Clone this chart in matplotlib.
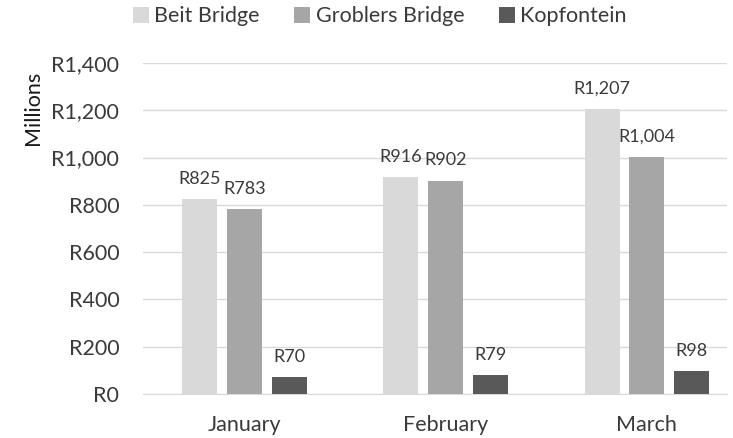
import numpy as np
import matplotlib
matplotlib.use("Agg")
import matplotlib.pyplot as plt

plt.rcParams['font.family'] = ['Lato', 'DejaVu Sans']

months = ["January", "February", "March"]
series = ["Beit Bridge", "Groblers Bridge", "Kopfontein"]
beit = [825, 916, 1207]
groblers = [783, 902, 1004]
kopfontein = [70, 79, 98]
colors = ["#D9D9D9", "#A6A6A6", "#595959"]
text_col = "#3A3A3A"

fig = plt.figure(figsize=(7.33, 4.38), dpi=100)
ax = fig.add_axes([0.195, 0.1005, 0.797, 0.7557])

x = np.arange(len(months))
w = 0.174
step = 0.222
for i, (name, vals) in enumerate(zip(series, [beit, groblers, kopfontein])):
    pos = x + (i - 1) * step
    bars = ax.bar(pos, vals, w, color=colors[i], label=name, zorder=3)
    for b, v in zip(bars, vals):
        ax.annotate(f"R{v:,}", (b.get_x() + b.get_width() / 2, v),
                    xytext=(0, 11), textcoords="offset points",
                    ha="center", va="baseline", fontsize=13, color=text_col)

ax.set_xlim(-0.505, 2.4)
ax.set_ylim(0, 1400)
ax.set_yticks(range(0, 1401, 200))
ax.set_yticklabels([f"R{v:,}" for v in range(0, 1401, 200)])
ax.set_xticks(x)
ax.set_xticklabels(months)
ax.tick_params(axis="both", length=0, labelsize=15.5, colors=text_col)
ax.tick_params(axis="x", pad=15)
ax.tick_params(axis="y", pad=17)
ax.yaxis.grid(True, color="#D9D9D9", linewidth=1, zorder=0)
for s in ["top", "right", "left"]:
    ax.spines[s].set_visible(False)
ax.spines["bottom"].set_color("#D9D9D9")

fig.text(33 / 733, 1 - 108 / 438, "Millions", rotation=90, ha="center", va="center",
         fontsize=15.5, color="#1A1A1A")

fig.legend(loc="upper center", bbox_to_anchor=(0.518, 1.03), ncol=3, frameon=False,
           fontsize=15.5, handlelength=0.75, handleheight=0.75, handletextpad=0.25,
           columnspacing=1.6, labelcolor=text_col)

fig.savefig("out.png", dpi=100)
